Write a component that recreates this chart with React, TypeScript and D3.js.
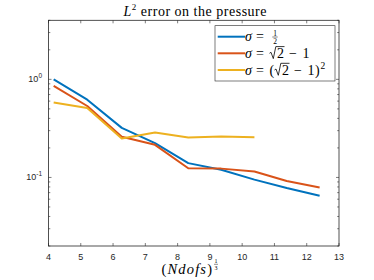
import * as d3 from "d3";

const xs = [4.16, 5.2, 6.27, 7.3, 8.33, 9.35, 10.38, 11.38, 12.4];
const halfErr = [1.0, 0.62, 0.32, 0.224, 0.14, 0.12, 0.095, 0.078, 0.065];
const sqrtErr = [0.86, 0.535, 0.26, 0.215, 0.124, 0.123, 0.115, 0.092, 0.079];
const sqErr = [0.58, 0.51, 0.25, 0.287, 0.255, 0.262, 0.257];
const xTicks = [4, 5, 6, 7, 8, 9, 10, 11, 12, 13];
const yMajor = [0.1, 1];
const colors = ["#0072BD", "#D95319", "#EDB120"];

const W = 374, H = 280;
const L = 48.5, R = 339, T = 20.3, B = 246;
const axisCol = "#262626";
const serif = "'Liberation Serif', 'DejaVu Serif', serif";
const sans = "'Liberation Sans', Arial, sans-serif";

// radical sign with overline, baseline b
function radical(x0: number, xEnd: number, b: number) {
  return `M${x0},${b - 4.5} L${x0 + 1.5},${b - 5.5} L${x0 + 3.8},${b + 0.8} L${x0 + 6.3},${b - 11.2} L${xEnd},${b - 11.2}`;
}

export default function App() {
  const x = d3.scaleLinear().domain([4, 13]).range([L, R]);
  const y = d3.scaleLog().domain([0.02, 4]).range([B, T]);
  const line = d3.line<[number, number]>().x(d => x(d[0])).y(d => y(d[1]));
  const series = [halfErr, sqrtErr, sqErr].map(s => s.map((v, i) => [xs[i], v] as [number, number]));
  const minor = y.ticks().filter(v => !yMajor.some(m => Math.abs(m - v) < 1e-9));
  const tk = 3;

  const legX = 215, legY = 25.7, legW = 120, legH = 55.3;
  const rowY = [36.7, 53.3, 70];
  const bl = rowY.map(r => r + 4.5);

  return (
    <svg width={W} height={H} style={{ position: "absolute", left: 0, top: 0, background: "#fff" }}>
      <defs>
        <clipPath id="clip"><rect x={L} y={T} width={R - L} height={B - T} /></clipPath>
      </defs>
      <rect x={L} y={T} width={R - L} height={B - T} fill="#fff" />
      <g clipPath="url(#clip)">
        {series.map((s, i) => (
          <path key={i} d={line(s) || ""} fill="none" stroke={colors[i]} strokeWidth={2} strokeLinejoin="round" />
        ))}
      </g>
      {xTicks.map(t => (
        <g key={t}>
          <line x1={x(t)} x2={x(t)} y1={B} y2={B - tk} stroke={axisCol} strokeWidth={0.6} />
          <line x1={x(t)} x2={x(t)} y1={T} y2={T + tk} stroke={axisCol} strokeWidth={0.6} />
          <text x={x(t)} y={259.5} textAnchor="middle" fontFamily={sans} fontSize={9} fill={axisCol}>{t}</text>
        </g>
      ))}
      {minor.map(t => (
        <g key={t}>
          <line x1={L} x2={L + 1.8} y1={y(t)} y2={y(t)} stroke={axisCol} strokeWidth={0.6} />
          <line x1={R} x2={R - 1.8} y1={y(t)} y2={y(t)} stroke={axisCol} strokeWidth={0.6} />
        </g>
      ))}
      {yMajor.map((t, i) => (
        <g key={t}>
          <line x1={L} x2={L + tk} y1={y(t)} y2={y(t)} stroke={axisCol} strokeWidth={0.6} />
          <line x1={R} x2={R - tk} y1={y(t)} y2={y(t)} stroke={axisCol} strokeWidth={0.6} />
          <text x={42} y={y(t) + 3} textAnchor="end" fontFamily={sans} fontSize={9} fill={axisCol}>
            10<tspan dy={-4} fontSize={6.5}>{i === 0 ? "-1" : "0"}</tspan>
          </text>
        </g>
      ))}
      <rect x={L} y={T} width={R - L} height={B - T} fill="none" stroke={axisCol} strokeWidth={0.8} />

      {/* title */}
      <text x={123.5} y={15.5} fontFamily={serif} fontSize={14} fill="#000" textLength={143} lengthAdjust="spacing">
        <tspan fontStyle="italic">L</tspan>
        <tspan dy={-5.5} fontSize={9}>2</tspan>
        <tspan dy={5.5}> error on the pressure</tspan>
      </text>

      {/* x label */}
      <text x={161.5} y={273.5} fontFamily={serif} fontSize={14.5} fill="#000" textLength={50.5} lengthAdjust="spacing">
        (<tspan fontStyle="italic">Ndofs</tspan>)
      </text>
      <text x={216} y={263} textAnchor="middle" fontFamily={serif} fontSize={6} fill="#000">1</text>
      <line x1={214} x2={218} y1={264.3} y2={264.3} stroke="#000" strokeWidth={0.45} />
      <text x={216} y={269.5} textAnchor="middle" fontFamily={serif} fontSize={6} fill="#000">3</text>

      {/* legend */}
      <rect x={legX} y={legY} width={legW} height={legH} fill="#fff" stroke={axisCol} strokeWidth={0.6} />
      {rowY.map((ry, i) => (
        <line key={i} x1={217.7} x2={245} y1={ry} y2={ry} stroke={colors[i]} strokeWidth={2} />
      ))}
      <g fontFamily={serif} fontSize={14} fill="#000">
        {bl.map((b, i) => (
          <g key={i}>
            <text x={245} y={b} fontStyle="italic">σ</text>
            <text x={260} y={b} textAnchor="middle">=</text>
          </g>
        ))}
        {/* row 1: 1/2 */}
        <text x={275} y={rowY[0] - 1.2} textAnchor="middle" fontSize={7.5}>1</text>
        <line x1={272.3} x2={277.7} y1={rowY[0] + 0.3} y2={rowY[0] + 0.3} stroke="#000" strokeWidth={0.5} />
        <text x={275} y={rowY[0] + 7.2} textAnchor="middle" fontSize={7.5}>2</text>

        {/* row 2: sqrt2 - 1 */}
        <path d={radical(269.5, 284.5, bl[1])} fill="none" stroke="#000" strokeWidth={0.8} />
        <text x={277} y={bl[1]}>2</text>
        <text x={293} y={bl[1]} textAnchor="middle">−</text>
        <text x={302.5} y={bl[1]}>1</text>

        {/* row 3: (sqrt2 - 1)^2 */}
        <text x={269.5} y={bl[2]}>(</text>
        <path d={radical(274.5, 289.5, bl[2])} fill="none" stroke="#000" strokeWidth={0.8} />
        <text x={282} y={bl[2]}>2</text>
        <text x={298} y={bl[2]} textAnchor="middle">−</text>
        <text x={307.5} y={bl[2]}>1</text>
        <text x={315} y={bl[2]}>)</text>
        <text x={320.5} y={bl[2] - 5.5} fontSize={9.5}>2</text>
      </g>
    </svg>
  );
}
